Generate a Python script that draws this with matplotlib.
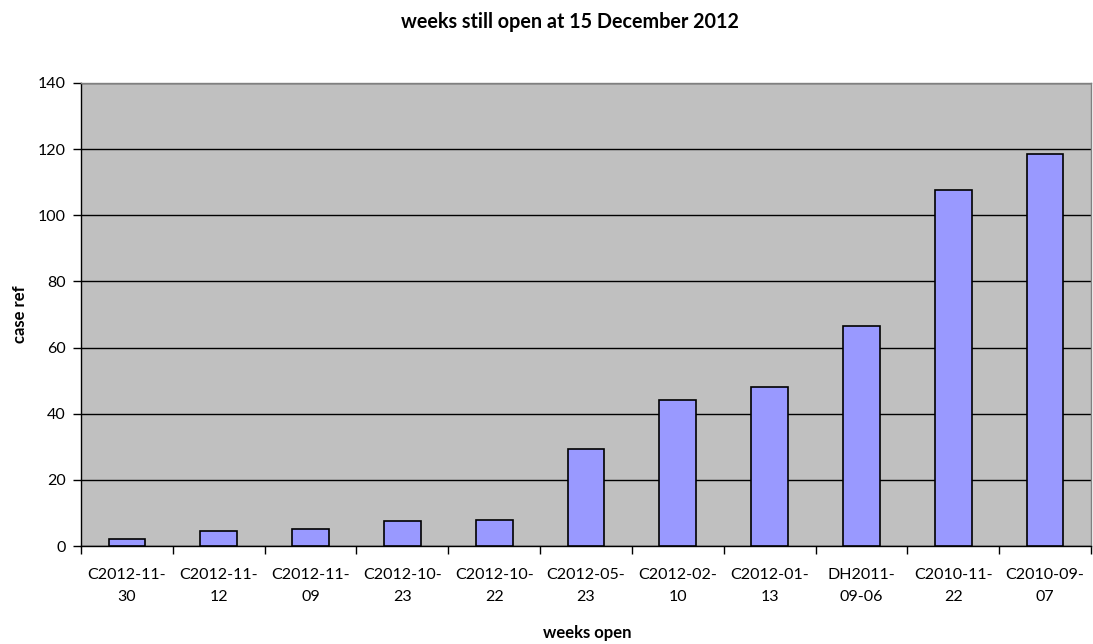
import matplotlib
matplotlib.use("Agg")
import matplotlib.pyplot as plt
from matplotlib.ticker import MultipleLocator, FixedLocator, NullFormatter
import numpy as np

plt.rcParams['font.family'] = ['Lato', 'DejaVu Sans']

# case references and how many weeks each has been open
cases = ["C2012-11-\n30", "C2012-11-\n12", "C2012-11-\n09", "C2012-10-\n23",
         "C2012-10-\n22", "C2012-05-\n23", "C2012-02-\n10", "C2012-01-\n13",
         "DH2011-\n09-06", "C2010-11-\n22", "C2010-09-\n07"]
weeks = [2.1, 4.6, 5.1, 7.5, 7.9, 29.3, 44.0, 48.1, 66.6, 107.7, 118.6]

title = "weeks still open at 15 December 2012"
xlabel = "weeks open"
ylabel = "case ref"

fig = plt.figure(figsize=(10.93, 6.44), dpi=100)
ax = fig.add_axes([81 / 1093, 1 - 546 / 644, 1010 / 1093, 463 / 644])
ax.set_facecolor("#c0c0c0")

x = np.arange(len(cases))
ax.bar(x, weeks, width=0.4, color="#9999ff", edgecolor="black", linewidth=1.2, zorder=3)

ax.set_xlim(-0.5, len(cases) - 0.5)
ax.set_ylim(0, 140)
ax.yaxis.set_major_locator(MultipleLocator(20))
ax.grid(axis="y", color="black", linewidth=1.0, zorder=1)
ax.set_axisbelow(True)

# category labels centred under bars, ticks on category boundaries
ax.set_xticks(x)
ax.set_xticklabels(cases, fontsize=11.5, linespacing=1.75)
ax.tick_params(axis="x", which="major", length=0, pad=16)
ax.xaxis.set_minor_locator(FixedLocator(np.arange(-0.5, len(cases), 1.0)))
ax.xaxis.set_minor_formatter(NullFormatter())
ax.tick_params(axis="x", which="minor", length=6, width=1, color="black", direction="out")
ax.tick_params(axis="y", length=6, width=1, labelsize=11.5, pad=5, direction="out")

for side in ("top", "right"):
    ax.spines[side].set_color("#808080")
    ax.spines[side].set_linewidth(1)
for side in ("left", "bottom"):
    ax.spines[side].set_color("black")
    ax.spines[side].set_linewidth(1)

fig.text(570 / 1093, 1 - 22 / 644, title, ha="center", va="center",
         fontsize=14.2, fontweight="bold")
fig.text(587 / 1093, 1 - 633 / 644, xlabel, ha="center", va="center",
         fontsize=12, fontweight="bold")
fig.text(20 / 1093, 1 - 314 / 644, ylabel, ha="center", va="center",
         fontsize=12, fontweight="bold", rotation=90)

fig.savefig("out.png", dpi=100, facecolor="white")
